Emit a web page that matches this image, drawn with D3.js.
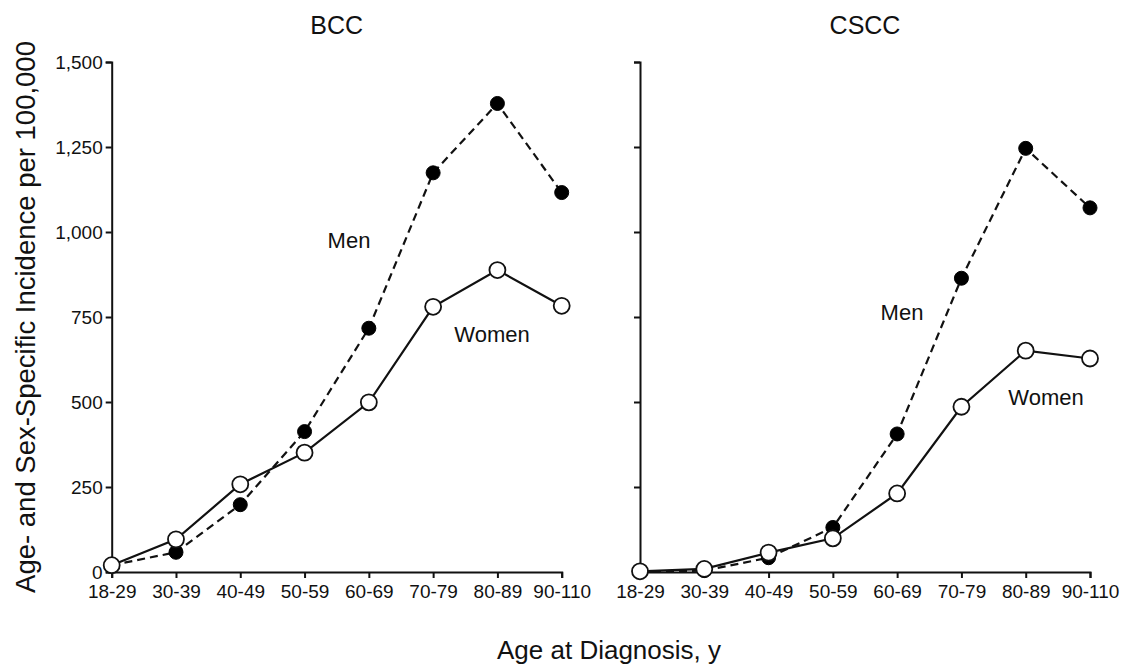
<!DOCTYPE html>
<html>
<head>
<meta charset="utf-8">
<script src="https://cdn.jsdelivr.net/npm/d3@7"></script>
<style>
  html, body { margin: 0; padding: 0; background: #fff; }
  svg { display: block; font-family: "Liberation Sans", Arial, sans-serif; }
</style>
</head>
<body>
<svg id="chart" width="1132" height="671"></svg>
<script>
// ---- data ----
const ageGroups = ["18-29", "30-39", "40-49", "50-59", "60-69", "70-79", "80-89", "90-110"];
const yTicks = [0, 250, 500, 750, 1000, 1250, 1500];
const panelTitles = ["BCC", "CSCC"];
const bccMen   = [20, 58, 198, 413, 717, 1174, 1378, 1116];
const bccWomen = [20, 96, 258, 351, 499, 780, 888, 783];
const csccMen   = [1, 4, 42, 131, 406, 864, 1246, 1071];
const csccWomen = [2, 9, 57, 99, 231, 486, 651, 628];
const seriesLabels = ["Men", "Women"];

// ---- layout ----
const svg = d3.select("#chart");
const plotTop = 62, plotBottom = 572;
const panels = [
  { title: panelTitles[0], x0: 111.7, x1: 561.7, men: bccMen, women: bccWomen, showLabels: true,
    menLabel: [349, 240], womenLabel: [492, 334] },
  { title: panelTitles[1], x0: 640, x1: 1090, men: csccMen, women: csccWomen, showLabels: false,
    menLabel: [902, 312], womenLabel: [1046, 397] }
];

const y = d3.scaleLinear().domain([0, 1500]).range([plotBottom, plotTop]);

panels.forEach(p => {
  const x = d3.scalePoint().domain(ageGroups).range([p.x0, p.x1]);
  const g = svg.append("g");

  // axes
  const yAxis = d3.axisLeft(y).tickValues(yTicks).tickSizeOuter(0).tickSize(6).tickPadding(3)
    .tickFormat(p.showLabels ? d3.format(",") : () => "");
  const ya = g.append("g").attr("transform", `translate(${p.x0},0)`).call(yAxis);
  const xAxis = d3.axisBottom(x).tickSizeOuter(0).tickSize(6).tickPadding(6);
  const xa = g.append("g").attr("transform", `translate(0,${plotBottom})`).call(xAxis);
  [ya, xa].forEach(a => {
    a.select(".domain").attr("stroke", "#111").attr("stroke-width", 2);
    a.selectAll(".tick line").attr("stroke", "#111").attr("stroke-width", 2);
    a.selectAll(".tick text").attr("fill", "#111").attr("font-size", 19)
      .attr("font-family", "Liberation Sans, Arial, sans-serif");
  });
  ya.selectAll(".tick text").attr("dy", "0.36em");
  xa.selectAll(".tick text").attr("dy", "0.75em");

  // title
  g.append("text").attr("x", (p.x0 + p.x1) / 2).attr("y", 34)
    .attr("text-anchor", "middle").attr("font-size", 25).attr("fill", "#111").text(p.title);

  const line = d3.line().x((d, i) => x(ageGroups[i])).y(d => y(d));

  // Men: dashed line, filled circles
  g.append("path").datum(p.men).attr("d", line).attr("fill", "none")
    .attr("stroke", "#111").attr("stroke-width", 2.2).attr("stroke-dasharray", "8,5");
  // Women: solid line
  g.append("path").datum(p.women).attr("d", line).attr("fill", "none")
    .attr("stroke", "#111").attr("stroke-width", 2.2);

  g.selectAll("circle.men").data(p.men).enter().append("circle").attr("class", "men")
    .attr("cx", (d, i) => x(ageGroups[i])).attr("cy", d => y(d)).attr("r", 7)
    .attr("fill", "#000").attr("stroke", "#000").attr("stroke-width", 1);
  g.selectAll("circle.women").data(p.women).enter().append("circle").attr("class", "women")
    .attr("cx", (d, i) => x(ageGroups[i])).attr("cy", d => y(d)).attr("r", 8)
    .attr("fill", "#fff").attr("stroke", "#111").attr("stroke-width", 1.8);

  g.append("text").attr("x", p.menLabel[0]).attr("y", p.menLabel[1]).attr("dy", "0.35em")
    .attr("text-anchor", "middle").attr("font-size", 22).attr("fill", "#111").text(seriesLabels[0]);
  g.append("text").attr("x", p.womenLabel[0]).attr("y", p.womenLabel[1]).attr("dy", "0.35em")
    .attr("text-anchor", "middle").attr("font-size", 22).attr("fill", "#111").text(seriesLabels[1]);
});

// axis titles
svg.append("text").attr("x", 609).attr("y", 659).attr("text-anchor", "middle")
  .attr("font-size", 26).attr("fill", "#111").text("Age at Diagnosis, y");
svg.append("text").attr("transform", `translate(35,${(plotTop + plotBottom) / 2}) rotate(-90)`)
  .attr("text-anchor", "middle").attr("font-size", 27.5).attr("fill", "#111")
  .text("Age- and Sex-Specific Incidence per 100,000");
</script>
</body>
</html>
